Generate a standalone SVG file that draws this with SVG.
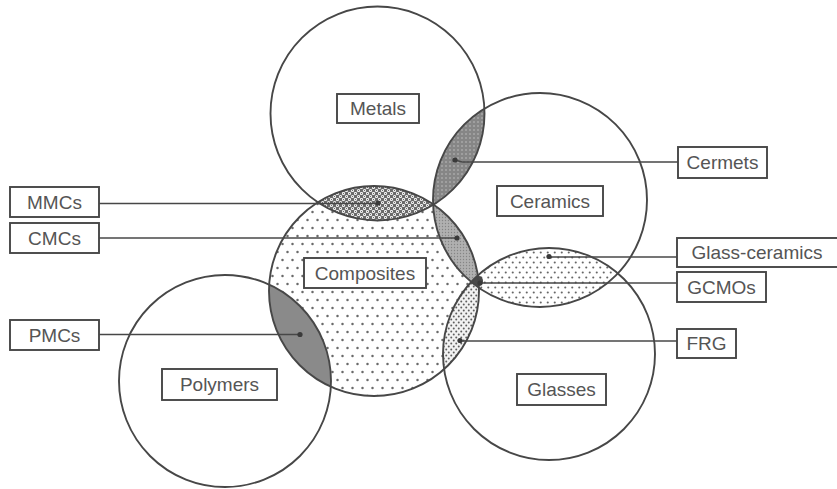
<svg xmlns="http://www.w3.org/2000/svg" width="837" height="489" viewBox="0 0 837 489">
  <style>
    .ring { fill: none; stroke: #474747; stroke-width: 1.9; }
    .box { fill: #ffffff; stroke: #474747; stroke-width: 1.9; }
    .lbl { font-family: "Liberation Sans", Arial, sans-serif; font-size: 19px; fill: #555555; text-anchor: middle; dominant-baseline: central; }
    .lead { stroke: #474747; stroke-width: 1.7; fill: none; }
    .pin { fill: #3a3a3a; }
  </style>
  <defs>
    <!-- circle geometry reused for clipping -->
    <clipPath id="cMetals"><circle cx="377.5" cy="113.5" r="107"/></clipPath>
    <clipPath id="cCeramics"><circle cx="540" cy="200" r="107"/></clipPath>
    <clipPath id="cComposites"><circle cx="374" cy="291" r="105"/></clipPath>
    <clipPath id="cPolymers"><circle cx="225" cy="381" r="106"/></clipPath>
    <clipPath id="cGlasses"><circle cx="549" cy="354" r="106"/></clipPath>

    <!-- fill textures -->
    <pattern id="pSparse" width="10" height="16" patternUnits="userSpaceOnUse">
      <rect width="10" height="16" fill="#ffffff"/>
      <circle cx="2.5" cy="4" r="1.25" fill="#6a6a6a"/>
      <circle cx="7.5" cy="12" r="1.25" fill="#6a6a6a"/>
    </pattern>
    <pattern id="pMedium" width="7" height="10" patternUnits="userSpaceOnUse">
      <rect width="7" height="10" fill="#ffffff"/>
      <circle cx="1.75" cy="2.5" r="1.05" fill="#666666"/>
      <circle cx="5.25" cy="7.5" r="1.05" fill="#666666"/>
    </pattern>
    <pattern id="pDense" width="5" height="6" patternUnits="userSpaceOnUse">
      <rect width="5" height="6" fill="#f2f2f2"/>
      <circle cx="1.25" cy="1.5" r="1" fill="#5e5e5e"/>
      <circle cx="3.75" cy="4.5" r="1" fill="#5e5e5e"/>
    </pattern>
    <pattern id="pFine" width="3" height="3" patternUnits="userSpaceOnUse">
      <rect width="3" height="3" fill="#b0b0b0"/>
      <circle cx="1.5" cy="1.5" r="0.7" fill="#858585"/>
    </pattern>
    <pattern id="pDark" width="4" height="4" patternUnits="userSpaceOnUse">
      <rect width="4" height="4" fill="#868686"/>
      <circle cx="2" cy="2" r="1" fill="#a8a8a8"/>
    </pattern>
    <pattern id="pBubble" width="6" height="6" patternUnits="userSpaceOnUse">
      <rect width="6" height="6" fill="#6a6a6a"/>
      <circle cx="1.5" cy="1.5" r="1.6" fill="#f0f0f0"/>
      <circle cx="4.5" cy="4.5" r="1.6" fill="#f0f0f0"/>
      <circle cx="1.5" cy="1.5" r="0.55" fill="#555555"/>
      <circle cx="4.5" cy="4.5" r="0.55" fill="#555555"/>
    </pattern>
  </defs>

  <rect width="837" height="489" fill="#ffffff"/>

  <!-- shaded regions -->
  <g id="regions">
    <circle id="compositesFill" cx="374" cy="291" r="105" fill="url(#pSparse)"/>
    <g clip-path="url(#cCeramics)">
      <circle id="glassCeramicsFill" cx="549" cy="354" r="106" fill="url(#pMedium)"/>
    </g>
    <g clip-path="url(#cComposites)">
      <circle id="frgFill" cx="549" cy="354" r="106" fill="url(#pDense)"/>
      <circle id="cmcFill" cx="540" cy="200" r="107" fill="url(#pFine)"/>
      <circle id="mmcFill" cx="377.5" cy="113.5" r="107" fill="url(#pBubble)"/>
      <circle id="pmcFill" cx="225" cy="381" r="106" fill="#8a8a8a"/>
    </g>
    <g clip-path="url(#cMetals)">
      <circle id="cermetFill" cx="540" cy="200" r="107" fill="url(#pDark)"/>
    </g>
    <g clip-path="url(#cComposites)">
      <g clip-path="url(#cCeramics)">
        <circle id="gcmoFill" cx="549" cy="354" r="106" fill="#4a4a4a"/>
      </g>
    </g>
    <!-- dark knot where composites, ceramics and glasses meet -->
    <ellipse id="gcmoCore" cx="479" cy="281" rx="4" ry="5" fill="#4a4a4a"/>
  </g>

  <!-- circle outlines -->
  <g id="circles">
    <circle id="metals" class="ring" cx="377.5" cy="113.5" r="107"/>
    <circle id="ceramics" class="ring" cx="540" cy="200" r="107"/>
    <circle id="composites" class="ring" cx="374" cy="291" r="105"/>
    <circle id="polymers" class="ring" cx="225" cy="381" r="106"/>
    <circle id="glasses" class="ring" cx="549" cy="354" r="106"/>
  </g>

  <!-- leader lines -->
  <g id="connectors">
    <path class="lead" d="M99 203.5 H378"/>
    <circle class="pin" cx="378" cy="203" r="2.6"/>
    <path class="lead" d="M99 238 H457"/>
    <circle class="pin" cx="457" cy="238" r="2.6"/>
    <path class="lead" d="M99 334.5 H300"/>
    <circle class="pin" cx="300" cy="334.5" r="2.6"/>
    <path class="lead" d="M678 162 H462 L455 160"/>
    <circle class="pin" cx="455" cy="160" r="2.6"/>
    <path class="lead" d="M677 257 H549"/>
    <circle class="pin" cx="549" cy="256.5" r="2.6"/>
    <path class="lead" d="M677 283 H480"/>
    <circle class="pin" cx="480" cy="283" r="2.6"/>
    <path class="lead" d="M677 341 H460"/>
    <circle class="pin" cx="460" cy="340.5" r="2.6"/>
  </g>

  <!-- material labels -->
  <g id="metalsLabel"><rect class="box" x="337" y="94" width="82" height="29"/><text class="lbl" x="378" y="108.5">Metals</text></g>
  <g id="ceramicsLabel"><rect class="box" x="497" y="186" width="106" height="30"/><text class="lbl" x="550" y="201">Ceramics</text></g>
  <g id="compositesLabel"><rect class="box" x="304" y="258" width="122" height="30"/><text class="lbl" x="365" y="273">Composites</text></g>
  <g id="polymersLabel"><rect class="box" x="162" y="369" width="115" height="31"/><text class="lbl" x="219.5" y="384.5">Polymers</text></g>
  <g id="glassesLabel"><rect class="box" x="517" y="374" width="89" height="31"/><text class="lbl" x="561.5" y="389.5">Glasses</text></g>

  <!-- overlap labels -->
  <g id="mmcLabel"><rect class="box" x="10" y="187" width="89" height="30"/><text class="lbl" x="54.5" y="202">MMCs</text></g>
  <g id="cmcLabel"><rect class="box" x="10" y="223" width="89" height="30"/><text class="lbl" x="54.5" y="238">CMCs</text></g>
  <g id="pmcLabel"><rect class="box" x="10" y="320" width="89" height="30"/><text class="lbl" x="54.5" y="335">PMCs</text></g>
  <g id="cermetLabel"><rect class="box" x="678" y="147" width="89" height="31"/><text class="lbl" x="722.5" y="162.5">Cermets</text></g>
  <g id="glassCeramicsLabel"><rect class="box" x="677" y="238" width="166" height="29"/><text class="lbl" x="757" y="252.5">Glass-ceramics</text></g>
  <g id="gcmoLabel"><rect class="box" x="677" y="272" width="89" height="30"/><text class="lbl" x="721.5" y="287">GCMOs</text></g>
  <g id="frgLabel"><rect class="box" x="677" y="329" width="59" height="29"/><text class="lbl" x="706.5" y="343.5">FRG</text></g>
</svg>
